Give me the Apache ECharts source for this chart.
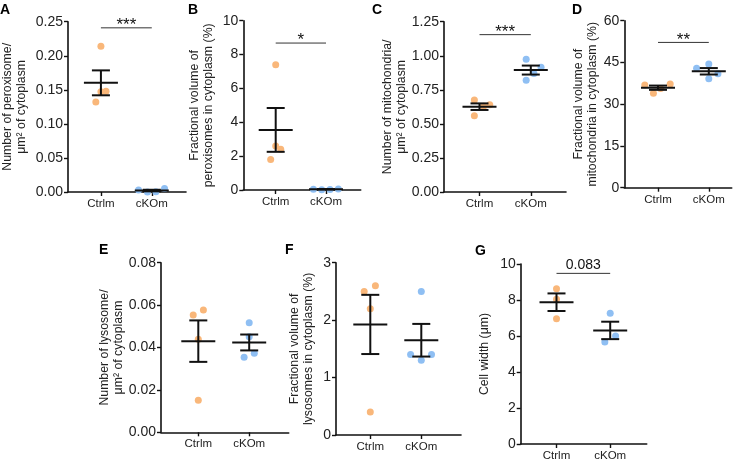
<!DOCTYPE html>
<html>
<head>
<meta charset="utf-8">
<script src="https://cdn.jsdelivr.net/npm/echarts@6/dist/echarts.min.js"></script>
<style>
  html, body { margin: 0; padding: 0; background: #fff; }
  #main { width: 742px; height: 463px; }
</style>
</head>
<body>
<div id="main"></div>
<script>
var categories = ['Ctrlm', 'cKOm'];

// A - peroxisome number
var perNumCtrl = [0.214, 0.147, 0.148, 0.132];
var perNumKO = [0.003, 0.0, 0.0005, 0.005];
// B - peroxisome volume
var perVolCtrl = [7.4, 2.6, 2.4, 1.8];
var perVolKO = [0.05, 0.02, 0.03, 0.06];
// C - mitochondria number
var mitoNumCtrl = [0.675, 0.64, 0.63, 0.56];
var mitoNumKO = [0.975, 0.915, 0.87, 0.82];
// D - mitochondria volume
var mitoVolCtrl = [36.9, 37.3, 35.6, 33.9];
var mitoVolKO = [44.4, 42.9, 40.9, 39.1];
// E - lysosome number
var lysoNumCtrl = [0.0553, 0.0577, 0.0439, 0.0151];
var lysoNumKO = [0.0517, 0.0451, 0.0354, 0.0373];
// F - lysosome volume
var lysoVolCtrl = [2.5, 2.6, 2.2, 0.4];
var lysoVolKO = [2.5, 1.4, 1.4, 1.3];
// G - cell width
var widthCtrl = [8.63, 8.04, 6.96];
var widthKO = [7.26, 6.0, 5.67];

// horizontal scatter of the dots (in category units)
var jitA = [[0, 0, 0.1, -0.1], [-0.26, -0.085, 0.08, 0.25]];
var jitB = [[0, 0, 0.1, -0.1], [-0.25, -0.085, 0.08, 0.245]];
var jitC = [[-0.1, 0.2, 0.08, -0.1], [-0.09, 0.2, 0.06, -0.09]];
var jitD = [[-0.26, 0.24, 0.05, -0.09], [0, -0.24, 0.18, 0]];
var jitE = [[-0.1, 0.1, 0, 0], [0, 0, -0.1, 0.1]];
var jitF = [[-0.12, 0.1, 0, 0], [0, -0.21, 0.2, 0]];
var jitG = [[0, 0, 0], [0, 0.1, -0.1]];

// significance brackets
var sigHeights = [0.241, 8.68, 1.155, 52.2, null, null, 9.48];
var sigLabels = ['***', '*', '***', '**', '', '', '0.083'];

// y axis ticks: max / step / decimals
var yMax = [0.25, 10, 1.25, 60, 0.08, 3, 10];
var yStep = [0.05, 2, 0.25, 15, 0.02, 1, 2];
var yDec = [2, 0, 2, 0, 2, 0, 0];

var yTitles = [
  'Number of peroxisome/\nμm² of cytoplasm',
  'Fractional volume of\nperoxisomes in cytoplasm (%)',
  'Number of mitochondria/\nμm² of cytoplasm',
  'Fractional volume of\nmitochondria in cytoplasm (%)',
  'Number of lysosome/\nμm² of cytoplasm',
  'Fractional volume of\nlysosomes in cytoplasm (%)',
  'Cell width (μm)'
];
var letters = ['A', 'B', 'C', 'D', 'E', 'F', 'G'];

var groups = [
  [perNumCtrl, perNumKO, jitA],
  [perVolCtrl, perVolKO, jitB],
  [mitoNumCtrl, mitoNumKO, jitC],
  [mitoVolCtrl, mitoVolKO, jitD],
  [lysoNumCtrl, lysoNumKO, jitE],
  [lysoVolCtrl, lysoVolKO, jitF],
  [widthCtrl, widthKO, jitG]
];

// layout: y-axis x, top, bottom, tick1 x, tick2 x, right end, name gap, letter pos
var layout = [
  {l: 67.7, t: 21.7, b: 192, t1: 100.7, t2: 151.7, r: 186, gap: 40, lx: 0, ly: 3},
  {l: 243.3, t: 20.7, b: 190, t1: 275.7, t2: 326, r: 360.7, gap: 28, lx: 188, ly: 3},
  {l: 444, t: 21.7, b: 192, t1: 479.5, t2: 530.8, r: 566, gap: 35, lx: 372, ly: 3},
  {l: 624.3, t: 20.7, b: 187.7, t1: 658, t2: 708.8, r: 731.7, gap: 25, lx: 572, ly: 3},
  {l: 161, t: 262.7, b: 432.3, t1: 198.3, t2: 249.2, r: 288.7, gap: 36, lx: 99, ly: 243},
  {l: 336, t: 262.7, b: 435, t1: 370.3, t2: 421.3, r: 461, gap: 21, lx: 285, ly: 243},
  {l: 520.7, t: 264, b: 444, t1: 556.5, t2: 610.2, r: 646.7, gap: 29, lx: 475, ly: 244}
];

var orange = '#F9B77A';
var blue = '#8FBFF3';
var font = 'Liberation Sans, Arial, Helvetica, sans-serif';

function meanSem(arr) {
  var n = arr.length;
  var m = arr.reduce(function (a, b) { return a + b; }, 0) / n;
  var ss = arr.reduce(function (a, b) { return a + (b - m) * (b - m); }, 0);
  var sem = Math.sqrt(ss / (n - 1)) / Math.sqrt(n);
  return [m, sem];
}

function renderMean(params, api) {
  var x = api.value(0);
  var c = api.coord([x, api.value(1)]);
  var lo = api.coord([x, api.value(2)]);
  var hi = api.coord([x, api.value(3)]);
  var st = {stroke: '#111', lineWidth: 2};
  return {
    type: 'group',
    children: [
      {type: 'line', shape: {x1: c[0] - 17, y1: c[1], x2: c[0] + 17, y2: c[1]}, style: st},
      {type: 'line', shape: {x1: c[0], y1: lo[1], x2: c[0], y2: hi[1]}, style: st},
      {type: 'line', shape: {x1: c[0] - 9, y1: lo[1], x2: c[0] + 9, y2: lo[1]}, style: st},
      {type: 'line', shape: {x1: c[0] - 9, y1: hi[1], x2: c[0] + 9, y2: hi[1]}, style: st}
    ]
  };
}

function makeSig(label) {
  return function (params, api) {
    var p1 = api.coord([api.value(0), api.value(2)]);
    var p2 = api.coord([api.value(1), api.value(2)]);
    var isStar = label.indexOf('*') === 0;
    return {
      type: 'group',
      children: [
        {type: 'line', shape: {x1: p1[0], y1: p1[1], x2: p2[0], y2: p2[1]},
          style: {stroke: '#333', lineWidth: 1}},
        {type: 'text', style: {
          text: label, x: (p1[0] + p2[0]) / 2, y: isStar ? p1[1] + 6 : p1[1] - 1,
          align: 'center', verticalAlign: 'bottom',
          fontSize: isStar ? 17 : 14, fontFamily: font, fill: '#111'
        }}
      ]
    };
  };
}

var grids = [], xAxes = [], yAxes = [], series = [], titles = [];

layout.forEach(function (p, i) {
  var sp = p.t2 - p.t1;
  grids.push({left: p.l, top: p.t, width: p.r - p.l, height: p.b - p.t});
  titles.push({text: letters[i], left: p.lx, top: p.ly, padding: 0,
    textStyle: {fontSize: 14, fontWeight: 'bold', color: '#000', fontFamily: font}});

  xAxes.push({
    type: 'value', gridIndex: i,
    min: 1 - (p.t1 - p.l) / sp, max: 2 + (p.r - p.t2) / sp,
    splitLine: {show: false},
    axisLine: {show: true, onZero: false, lineStyle: {color: '#111', width: 1.6}},
    axisTick: {show: true, customValues: [1, 2], length: 4, lineStyle: {color: '#111', width: 1.4}},
    axisLabel: {show: true, customValues: [1, 2], margin: 6, fontSize: 11.5, color: '#222',
      fontFamily: font, formatter: function (v) { return categories[Math.round(v) - 1]; }}
  });

  yAxes.push({
    type: 'value', gridIndex: i,
    min: 0, max: yMax[i], interval: yStep[i],
    splitLine: {show: false},
    axisLine: {show: true, onZero: false, lineStyle: {color: '#111', width: 1.6}},
    axisTick: {show: true, length: 4, lineStyle: {color: '#111', width: 1.4}},
    axisLabel: {margin: 5, fontSize: 14, color: '#222', fontFamily: font,
      formatter: function (v) { return v.toFixed(yDec[i]); }},
    name: yTitles[i], nameLocation: 'middle', nameRotate: 90, nameGap: p.gap,
    nameTextStyle: {fontSize: 12.3, lineHeight: 13.5, color: '#222', fontFamily: font}
  });

  var g = groups[i];
  [0, 1].forEach(function (k) {
    series.push({
      type: 'scatter', xAxisIndex: i, yAxisIndex: i, z: 2,
      symbolSize: 7, itemStyle: {color: k === 0 ? orange : blue, opacity: 1},
      data: g[k].map(function (v, j) { return [k + 1 + g[2][k][j], v]; })
    });
  });

  var ms0 = meanSem(g[0]), ms1 = meanSem(g[1]);
  series.push({
    type: 'custom', xAxisIndex: i, yAxisIndex: i, z: 5,
    renderItem: renderMean,
    data: [
      [1, ms0[0], ms0[0] - ms0[1], ms0[0] + ms0[1]],
      [2, ms1[0], ms1[0] - ms1[1], ms1[0] + ms1[1]]
    ]
  });

  if (sigHeights[i] != null) {
    series.push({
      type: 'custom', xAxisIndex: i, yAxisIndex: i, z: 4,
      renderItem: makeSig(sigLabels[i]),
      data: [[1, 2, sigHeights[i]]]
    });
  }
});

var chart = echarts.init(document.getElementById('main'));
chart.setOption({
  animation: false,
  backgroundColor: '#fff',
  title: titles,
  grid: grids,
  xAxis: xAxes,
  yAxis: yAxes,
  series: series
});
</script>
</body>
</html>
